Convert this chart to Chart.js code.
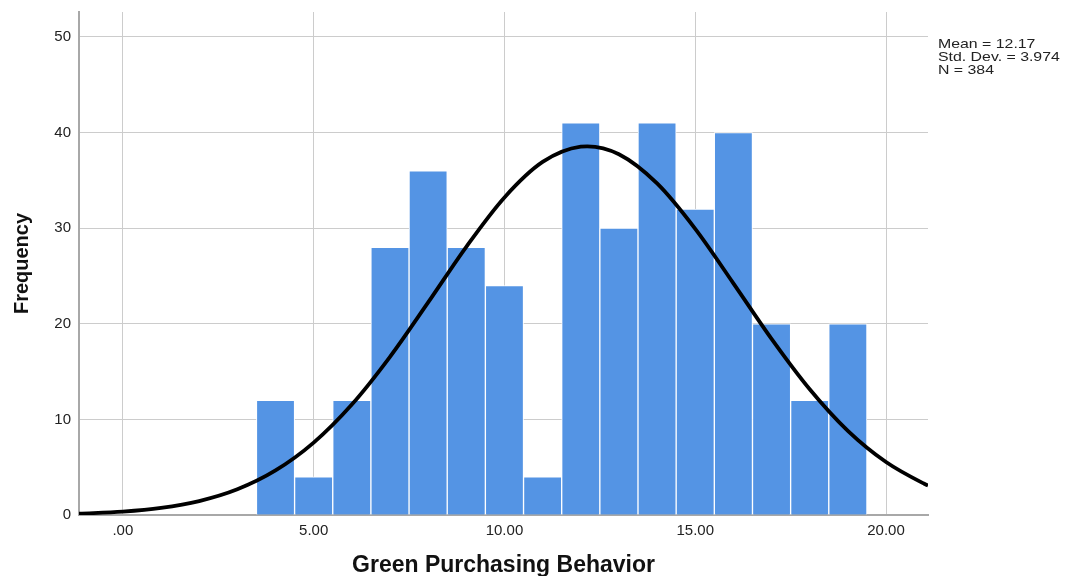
<!DOCTYPE html>
<html>
<head>
<meta charset="utf-8">
<script src="https://cdn.jsdelivr.net/npm/chart.js@4/dist/chart.umd.min.js"></script>
<style>
  html, body { margin: 0; padding: 0; background: #fff; }
  #wrap { width: 1070px; height: 576px; position: relative; }
</style>
</head>
<body>
<div id="wrap"><canvas id="histChart" width="1070" height="576"></canvas></div>
<script>
// histogram bins (centre of each 1-point bin) and counts
const binCenters = [4, 5, 6, 7, 8, 9, 10, 11, 12, 13, 14, 15, 16, 17, 18, 19];
const frequencies = [12, 4, 12, 28, 36, 28, 24, 4, 41, 30, 41, 32, 40, 20, 12, 20];

// normal curve
const curveX = [-1.15, 0, 1, 2, 3, 4, 5, 6, 7, 8, 9, 10, 11, 12, 12.17, 13, 14, 15, 16, 17, 18, 19, 20, 21, 21.1];
const curveY = [0.14, 0.35, 0.74, 1.46, 2.69, 4.66, 7.57, 11.55, 16.54, 22.23, 28.05, 33.21, 36.92, 38.52, 38.55, 37.72, 34.67, 29.92, 24.23, 18.42, 13.15, 8.80, 5.54, 3.27, 3.09];

const xTicks = [0, 5, 10, 15, 20];
const yTicks = [0, 10, 20, 30, 40, 50];
const statLines = ["Mean = 12.17", "Std. Dev. = 3.974", "N = 384"];

const fontFamily = "'Liberation Sans', Arial, sans-serif";

// the stats text sits to the right of the plot, a little wide like the original
const statsBox = {
  id: 'statsBox',
  afterDraw(chart) {
    const ctx = chart.ctx;
    ctx.save();
    ctx.font = "13px " + fontFamily;
    ctx.fillStyle = "#222";
    ctx.textBaseline = "middle";
    ctx.translate(chart.chartArea.right + 10, 0);
    ctx.scale(1.22, 1);
    statLines.forEach((t, i) => {
      ctx.fillText(t, 0, 44 + i * 13);
    });
    ctx.restore();
  }
};

new Chart(document.getElementById("histChart"), {
  type: 'bar',
  data: {
    datasets: [
      {
        type: 'line',
        data: curveX.map((x, i) => ({ x: x, y: curveY[i] })),
        borderColor: '#000',
        borderWidth: 3.8,
        pointRadius: 0,
        cubicInterpolationMode: 'monotone',
        fill: false,
        order: 0
      },
      {
        type: 'bar',
        data: binCenters.map((x, i) => ({ x: x, y: frequencies[i] })),
        backgroundColor: '#5494e4',
        borderColor: '#ffffff',
        borderWidth: 1,
        barPercentage: 1,
        categoryPercentage: 1,
        order: 1
      }
    ]
  },
  options: {
    responsive: false,
    animation: false,
    devicePixelRatio: 1,
    layout: { padding: { left: 0, right: 142, top: 12, bottom: 0 } },
    plugins: { legend: { display: false }, tooltip: { enabled: false } },
    scales: {
      x: {
        type: 'linear',
        offset: false,
        min: -1.15,
        max: 21.1,
        afterBuildTicks: s => { s.ticks = xTicks.map(v => ({ value: v })); },
        afterFit: s => { s.height = 61; s.paddingLeft = 0; s.paddingRight = 0; },
        ticks: {
          padding: 7,
          color: '#222',
          font: { family: fontFamily, size: 15 },
          maxRotation: 0,
          callback: v => v === 0 ? '.00' : v.toFixed(2)
        },
        grid: { color: '#cccccc', lineWidth: 1, drawTicks: false, offset: false },
        border: { color: '#a8a8a8', width: 2 },
        title: {
          display: true,
          text: 'Green Purchasing Behavior',
          color: '#111',
          font: { family: fontFamily, size: 23, weight: 'bold' },
          padding: { top: 0, bottom: -3 }
        }
      },
      y: {
        min: 0,
        max: 52.6,
        afterBuildTicks: s => { s.ticks = yTicks.map(v => ({ value: v })); },
        afterFit: s => { s.width = 79; s.paddingTop = 0; s.paddingBottom = 0; },
        ticks: {
          padding: 8,
          color: '#222',
          font: { family: fontFamily, size: 15 }
        },
        grid: { color: '#cccccc', lineWidth: 1, drawTicks: false },
        border: { color: '#a8a8a8', width: 2 },
        title: {
          display: true,
          text: 'Frequency',
          color: '#111',
          font: { family: fontFamily, size: 20, weight: 'bold' },
          padding: { top: 10, bottom: 0 }
        }
      }
    }
  },
  plugins: [statsBox]
});
</script>
</body>
</html>
